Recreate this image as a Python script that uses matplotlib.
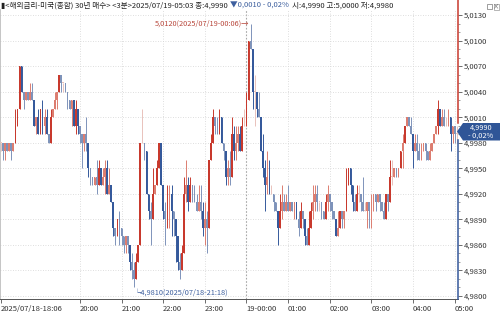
import numpy as np
import matplotlib.pyplot as plt
from matplotlib.patches import Polygon, Rectangle
from matplotlib.lines import Line2D
from matplotlib.ticker import FuncFormatter, MultipleLocator

plt.rcParams['font.family'] = ['Noto Sans CJK KR', 'DejaVu Sans']

# 가격은 4.980 기준 0.001 단위 레벨로 읽음 (3분봉, 18:06 ~ 05:03)
base = 4.980
step = 0.001
first_open = 18

close_lv = [18, 17, 18, 17, 18, 17, 18, 20, 22, 27, 24, 23, 24, 23, 24, 23, 20, 21, 19, 22,
            20, 21, 19, 18, 21, 22, 23, 24, 26, 25, 25, 24, 23, 22, 23, 20, 22, 20, 19, 18,
            19, 18, 15, 14, 13, 14, 13, 15, 13, 14, 15, 12, 13, 11, 8,
            7, 9, 8, 7, 6, 7, 6, 4, 3, 2, 4, 6, 18, 18, 17, 12, 10, 9, 12, 13,
            15, 18, 13, 10, 9, 11, 12, 10, 9, 7, 4, 3, 5, 12, 13, 11, 13, 12, 11, 10,
            11, 10, 8, 9, 8, 16, 18, 21, 20, 19, 21, 18, 17, 14, 15,
            14, 19, 17, 18, 19, 17, 20, 20, 23, 30, 29, 24, 24, 22, 21, 17, 15, 13, 14, 12,
            12, 11, 10, 8, 10, 11, 10, 11, 10, 11, 10, 11, 9, 8, 10, 9, 7, 6, 8, 10,
            11, 12, 11, 11, 10, 9, 11, 12, 11, 10, 9, 7, 8, 10, 9,
            10, 13, 15, 13, 11, 10, 12, 12, 11, 10, 10, 11, 10, 11, 12, 11, 12, 11, 10, 9,
            12, 11, 14, 14, 15, 14, 15, 17, 18, 20, 21, 20, 19, 17, 18, 17, 16, 17, 18, 17,
            16, 17, 18, 19, 20, 22, 20, 21, 20, 20, 21, 19, 20, 19, 19]
high_lv = [18, 18, 18, 18, 18, 18, 18, 22, 22, 27, 26, 24, 24, 24, 25, 25, 23, 21, 22, 22,
           23, 22, 22, 19, 22, 22, 24, 24, 26, 26, 25, 25, 24, 23, 23, 23, 23, 22, 20, 19,
           19, 21, 17, 15, 14, 14, 16, 16, 15, 15, 16, 16, 15, 12, 10,
           8, 9, 10, 8, 7, 7, 7, 6, 5, 4, 5, 6, 18, 22, 18, 16, 12, 11, 15, 13,
           16, 18, 18, 13, 11, 13, 13, 13, 10, 9, 6, 5, 6, 14, 16, 14, 14, 13, 13, 12,
           13, 13, 11, 11, 10, 16, 19, 22, 21, 21, 22, 21, 18, 17, 16,
           17, 21, 20, 20, 20, 20, 21, 22, 24, 30, 32, 29, 26, 24, 24, 21, 19, 16, 17, 16,
           13, 12, 11, 10, 12, 13, 12, 12, 13, 11, 11, 11, 11, 10, 11, 10, 8, 8, 10, 11,
           13, 13, 13, 11, 11, 10, 12, 13, 12, 11, 10, 9, 10, 10, 10,
           10, 15, 15, 14, 13, 12, 13, 13, 12, 14, 11, 11, 11, 12, 12, 12, 12, 12, 11, 11,
           12, 12, 16, 16, 15, 15, 15, 17, 19, 20, 21, 21, 21, 19, 19, 19, 18, 18, 18, 18,
           17, 18, 18, 19, 20, 23, 22, 22, 22, 21, 22, 21, 20, 20, 20]
low_lv = [17, 16, 16, 17, 17, 16, 17, 18, 20, 23, 24, 22, 23, 23, 23, 23, 20, 19, 19, 19,
          19, 19, 19, 18, 18, 21, 22, 22, 24, 24, 24, 24, 22, 22, 20, 20, 19, 19, 18, 15,
          17, 17, 14, 13, 13, 13, 12, 13, 13, 13, 12, 12, 12, 11, 7,
          6, 7, 6, 6, 5, 5, 5, 3, 2, 1, 2, 4, 6, 18, 16, 12, 9, 6, 10, 12,
          13, 15, 13, 9, 6, 8, 8, 7, 7, 4, 3, 2, 3, 5, 11, 10, 13, 11, 11, 10,
          10, 9, 7, 6, 5, 8, 16, 18, 19, 19, 19, 18, 16, 13, 13,
          13, 14, 16, 16, 17, 17, 18, 20, 20, 23, 29, 22, 20, 21, 21, 17, 14, 10, 12, 12,
          12, 10, 10, 6, 8, 9, 10, 10, 10, 10, 10, 9, 9, 7, 8, 8, 6, 6, 7, 9,
          9, 10, 10, 10, 9, 9, 10, 10, 10, 9, 9, 7, 7, 8, 8,
          8, 10, 13, 12, 10, 10, 11, 11, 10, 10, 10, 8, 8, 8, 10, 10, 11, 10, 10, 9,
          9, 10, 12, 13, 14, 14, 14, 15, 15, 18, 20, 20, 19, 15, 17, 16, 16, 16, 17, 16,
          16, 16, 17, 18, 19, 19, 20, 20, 20, 20, 20, 17, 18, 18, 18]

tick_bars = [0, 38, 58, 78, 98, 118, 138, 158, 178, 198, 218]
tick_labels = ['2025/07/18-18:06', '20:00', '21:00', '22:00', '23:00', '19-00:00',
               '01:00', '02:00', '03:00', '04:00', '05:00']

close = base + step * np.array(close_lv)
opn = np.r_[base + step * first_open, close[:-1]]
high = np.maximum(base + step * np.array(high_lv), np.maximum(opn, close))
low = np.minimum(base + step * np.array(low_lv), np.minimum(opn, close))
x = np.arange(len(close))

W, H = 500, 314
fig = plt.figure(figsize=(5, 3.14), dpi=100)
ax = fig.add_axes([0, 15 / H, 458 / W, 289 / H])

# 캔들 색: 몸통 크기에 따라 진하게
up_cols = ['#e9c2bb', '#dc7d70', '#c8392d']
dn_cols = ['#bcc6d8', '#7e93ba', '#35599b']
cols = []
for o, c in zip(opn, close):
    n = min(int(round(abs(c - o) / step)), 2)
    cols.append(up_cols[n] if c >= o else dn_cols[n])

ax.vlines(x, low, high, colors=cols, linewidth=0.7, zorder=3)
body_h = np.maximum(np.abs(close - opn), 0.00012)
ax.bar(x, body_h, bottom=np.minimum(opn, close), width=0.8, color=cols, linewidth=0, zorder=4)

ax.set_xlim(-0.4, 219.6)
ax.set_ylim(base - 3 / 8.515 * step, base + 286 / 8.515 * step)

ax.yaxis.tick_right()
ax.set_yticks(base + step * np.arange(0, 34, 3))
ax.yaxis.set_minor_locator(MultipleLocator(step))
ax.yaxis.set_major_formatter(FuncFormatter(lambda v, _: f"{v:.4f}".replace('.', ',')))
ax.tick_params(axis='y', which='major', length=3, width=0.6, color='#555555',
               labelsize=5.5, labelcolor='#333333', pad=1.5)
ax.tick_params(axis='y', which='minor', length=1.5, width=0.5, color='#777777')

ax.set_xticks(tick_bars)
ax.set_xticklabels(tick_labels)
for lab in ax.get_xticklabels():
    lab.set_ha('left')
ax.tick_params(axis='x', length=3, width=0.6, color='#555555', labelsize=5.5,
               labelcolor='#333333', pad=1)

ax.grid(axis='y', color='#d4d4d4', linestyle=(0, (1, 2)), linewidth=0.6)
for b in tick_bars[1:]:
    if b == 118:
        ax.axvline(b, color='#a8a8a8', linestyle=(0, (1.5, 1.5)), linewidth=0.8, zorder=1)
    else:
        ax.axvline(b, color='#d4d4d4', linestyle=(0, (1, 2)), linewidth=0.6, zorder=1)

for s in ['top', 'right']:
    ax.spines[s].set_visible(False)
ax.spines['left'].set_color('#bbbbbb')
ax.spines['left'].set_linewidth(1.2)
ax.spines['bottom'].set_color('#555555')
ax.spines['bottom'].set_linewidth(0.7)

# 최고/최저 표시
hi = int(np.argmax(high))
lo = int(np.argmin(low))
ax.text(hi - 0.4, high[hi], f"{high[hi]:.4f}".replace('.', ',') + "(2025/07/19-00:06)→",
        ha='right', va='center', fontsize=5.3, color='#b8473b', zorder=5)
ax.text(lo - 0.3, low[lo] - 0.0006, "└" + f"{low[lo]:.4f}".replace('.', ',') + "(2025/07/18-21:18)",
        ha='left', va='center', fontsize=5.3, color='#3d5f9e', zorder=5)

# 오른쪽 축선 (현재가 위 빨강, 아래 파랑)
def fy(py):
    return 1 - py / H

fig.add_artist(Line2D([457.5 / W] * 2, [fy(0), fy(123)], color='#c8392d', linewidth=1.1))
fig.add_artist(Line2D([457.5 / W] * 2, [fy(140), fy(299)], color='#35599b', linewidth=1.1))

# 현재가 박스
box = Polygon([(457 / W, fy(131.5)), (463 / W, fy(123)), (500 / W, fy(123)),
               (500 / W, fy(140.5)), (463 / W, fy(140.5))], closed=True,
              facecolor='#2f5597', edgecolor='none', transform=fig.transFigure, zorder=10)
fig.add_artist(box)
fig.text(481 / W, fy(127.5), f"{close[-1]:.4f}".replace('.', ','), ha='center', va='center',
         fontsize=5.3, color='white', zorder=11)
fig.text(481 / W, fy(135.5), "- 0,02%", ha='center', va='center', fontsize=5.3,
         color='white', zorder=11)

# 창 아이콘
fig.add_artist(Rectangle((487 / W, fy(9)), 5 / W, 5 / H, transform=fig.transFigure,
                         facecolor='white', edgecolor='#777777', linewidth=0.5))
fig.add_artist(Rectangle((493.5 / W, fy(9.5)), 5.5 / W, 6 / H, transform=fig.transFigure,
                         facecolor='white', edgecolor='#999999', linewidth=0.5))
fig.text(496.2 / W, fy(6.5), "×", ha='center', va='center', fontsize=4.5, color='#555555')

# 상단 헤더
hdr_font = ['Liberation Sans Narrow', 'Noto Sans CJK KR', 'DejaVu Sans']
parts = [("▮<해외금리-미국(종합) 30년 매수> <3분>2025/07/19-05:03 종:4,9990 ", '#222222'),
         ("▼0,0010 - 0,02% ", '#3d5f9e'),
         ("시:4,9990 고:5,0000 저:4,9980", '#222222')]
fig.canvas.draw()
r = fig.canvas.get_renderer()
px = 1.0
for txt, col in parts:
    t = fig.text(px / W, fy(6), txt, ha='left', va='center', fontsize=5.5, color=col,
                 family=hdr_font)
    px = t.get_window_extent(renderer=r).x1 + 1

fig.savefig('out.png', dpi=100)
